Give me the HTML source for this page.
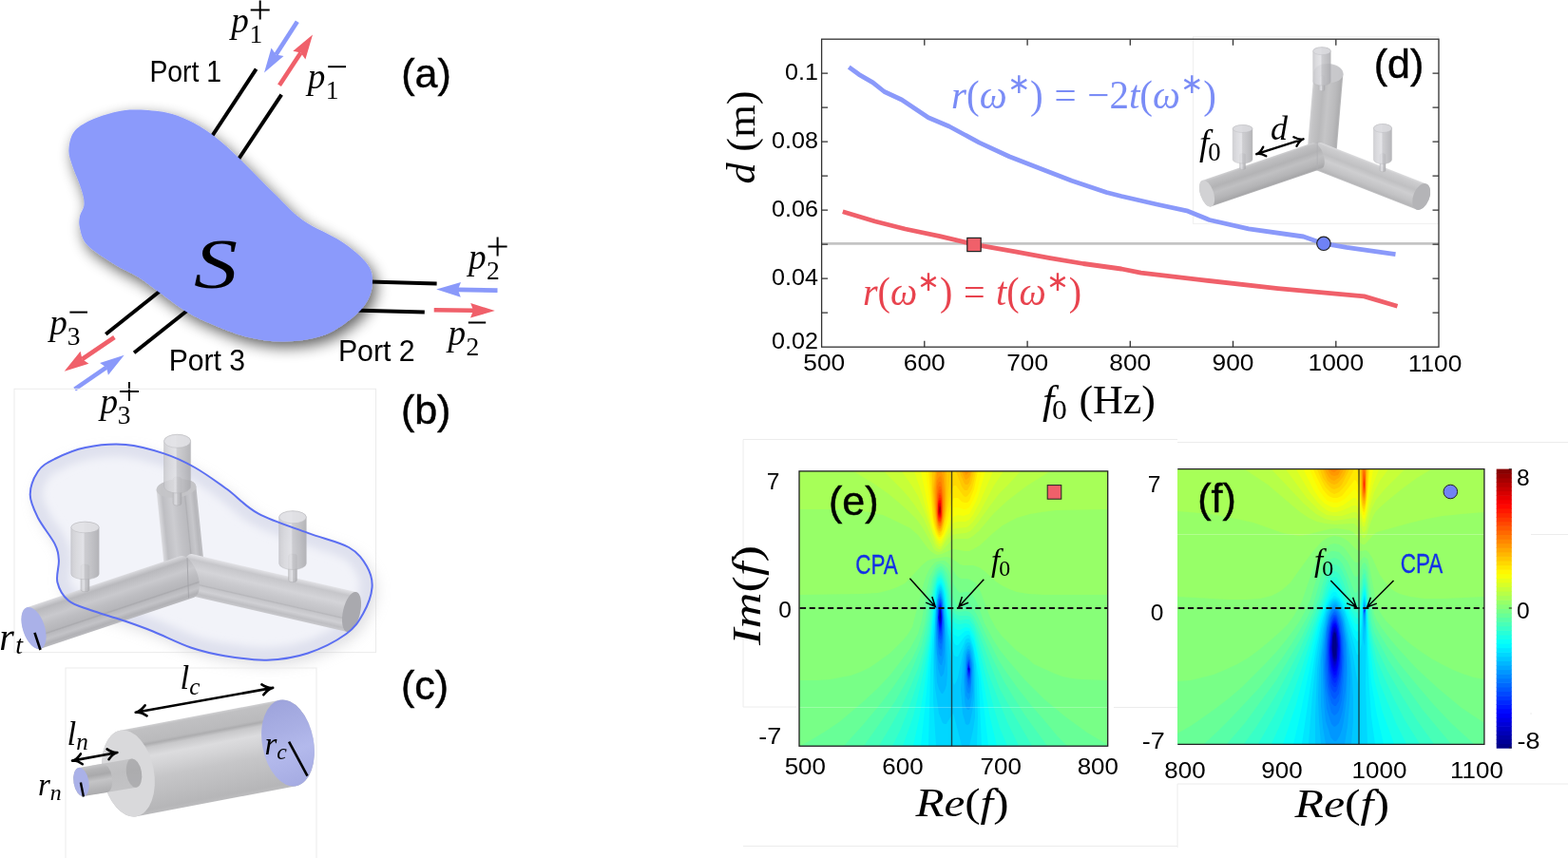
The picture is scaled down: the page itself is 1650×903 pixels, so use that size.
<!DOCTYPE html>
<html><head><meta charset="utf-8"><title>figure</title>
<style>html,body{margin:0;padding:0;background:#fff;}svg{display:block;}</style>
</head><body>
<svg width="1650" height="903" viewBox="0 0 1650 903">
<rect width="1650" height="903" fill="#fff"/>
<defs><filter id="sh" x="-20%" y="-20%" width="150%" height="150%"><feGaussianBlur in="SourceAlpha" stdDeviation="7.5"/><feOffset dx="4" dy="6" result="o"/><feComponentTransfer><feFuncA type="linear" slope="0.62"/></feComponentTransfer><feMerge><feMergeNode/><feMergeNode in="SourceGraphic"/></feMerge></filter></defs>
<g stroke="#000" stroke-width="4" stroke-linecap="butt">
<line x1="269.6" y1="72.7" x2="218" y2="151"/>
<line x1="296.2" y1="99.7" x2="244" y2="178"/>
<line x1="459.6" y1="298.5" x2="380" y2="296.3"/>
<line x1="446.8" y1="328.6" x2="370" y2="326.4"/>
<line x1="111.3" y1="351.8" x2="175" y2="301"/>
<line x1="141.1" y1="371.3" x2="205" y2="320.5"/>
</g>
<path filter="url(#sh)" fill="#8b9afb" d="M145 115.6C153.8 115.8 166.2 116.8 175 118.6C183.8 120.4 190 122.8 198 126.6C206 130.4 214.3 135.2 223 141.6C231.7 148 239 154.6 250 165C261 175.4 277.5 192.8 289 204C300.5 215.2 307.3 223.7 319 232C330.7 240.3 348 246.7 359 254C370 261.3 379.5 269.3 385 276C390.5 282.7 391.7 287.3 392 294C392.3 300.7 390.8 309 387 316C383.2 323 377 329.8 369 336C361 342.2 350.7 349.6 339 353.5C327.3 357.4 312.3 359.3 299 359.5C285.7 359.7 272.2 357.8 259 354.5C245.8 351.2 230.5 344.4 220 340C209.5 335.6 204.7 333.3 196 328C187.3 322.7 176.3 314 168 308C159.7 302 154 297 146 292C138 287 129 283.7 120 278C111 272.3 98 264.3 92 258C86 251.7 85.3 245.1 84 240C82.7 234.9 83.3 231.3 84 227.5C84.7 223.7 87.7 220.6 88.3 217C88.9 213.4 88.4 210.2 87.5 206C86.6 201.8 84.9 197.3 83 192C81.1 186.7 77.8 179.7 76 174C74.2 168.3 72.1 163.8 72.4 158C72.7 152.2 73.9 144.2 77.7 139C81.5 133.8 88 130.2 95.4 126.6C102.8 123 113.7 119.5 122 117.7C130.3 115.9 136.2 115.4 145 115.6Z"/>
<line x1="312.8" y1="22.8" x2="290.4" y2="57.4" stroke="#8a99fa" stroke-width="4.6"/><path fill="#8a99fa" d="M278 76.4 L285.5 50.6 L290.4 57.4 L298.5 59.1 Z"/>
<line x1="294" y1="89.7" x2="316.5" y2="55.6" stroke="#f0606a" stroke-width="4.6"/><path fill="#f0606a" d="M329 36.6 L321.4 62.4 L316.5 55.6 L308.3 53.8 Z"/>
<line x1="523.5" y1="305.6" x2="481.9" y2="304.9" stroke="#8a99fa" stroke-width="4.6"/><path fill="#8a99fa" d="M459.2 304.5 L485 297.1 L481.9 304.9 L484.8 312.7 Z"/>
<line x1="456.7" y1="326.2" x2="498.1" y2="326.8" stroke="#f0606a" stroke-width="4.6"/><path fill="#f0606a" d="M520.8 327.1 L495 334.5 L498.1 326.8 L495.2 318.9 Z"/>
<line x1="120.4" y1="355" x2="86.5" y2="378" stroke="#f0606a" stroke-width="4.6"/><path fill="#f0606a" d="M67.7 390.7 L84.6 369.8 L86.5 378 L93.4 382.7 Z"/>
<line x1="78.6" y1="409.6" x2="112" y2="386.7" stroke="#8a99fa" stroke-width="4.6"/><path fill="#8a99fa" d="M130.7 373.8 L113.9 394.8 L112 386.7 L105.1 381.9 Z"/>
<text x="157.4" y="86.2" font-family="'Liberation Sans', Arial, sans-serif" font-size="30.5" fill="#000" text-anchor="start"  textLength="75.7" lengthAdjust="spacingAndGlyphs">Port 1</text>
<text x="355.9" y="379.9" font-family="'Liberation Sans', Arial, sans-serif" font-size="30.5" fill="#000" text-anchor="start"  textLength="80.8" lengthAdjust="spacingAndGlyphs">Port 2</text>
<text x="177.7" y="390.3" font-family="'Liberation Sans', Arial, sans-serif" font-size="30.5" fill="#000" text-anchor="start"  textLength="80.4" lengthAdjust="spacingAndGlyphs">Port 3</text>
<text x="422.3" y="91.9" font-family="'Liberation Sans', Arial, sans-serif" font-size="43" fill="#000" text-anchor="start" stroke="#000" stroke-width="0.45">(a)</text>
<text x="204" y="303" font-family="'Liberation Serif', 'Times New Roman', serif" font-style="italic" font-size="74" fill="#000" text-anchor="start" textLength="46" lengthAdjust="spacingAndGlyphs">S</text>
<text x="243.3" y="33.9" font-family="'Liberation Serif', 'Times New Roman', serif" font-style="italic" font-size="37.2" fill="#000" text-anchor="start" >p</text><text x="262.5" y="44.5" font-family="'Liberation Serif', 'Times New Roman', serif" font-size="27.5" fill="#000" text-anchor="start" >1</text><path stroke="#000" stroke-width="2" d="M263.7 10.5 h20 M273.7 0.5 v20"/>
<text x="323.8" y="93.3" font-family="'Liberation Serif', 'Times New Roman', serif" font-style="italic" font-size="37.2" fill="#000" text-anchor="start" >p</text><text x="342.8" y="104" font-family="'Liberation Serif', 'Times New Roman', serif" font-size="27.5" fill="#000" text-anchor="start" >1</text><path stroke="#000" stroke-width="2" d="M345.2 70.2 h18.8"/>
<text x="493" y="283" font-family="'Liberation Serif', 'Times New Roman', serif" font-style="italic" font-size="37.2" fill="#000" text-anchor="start" >p</text><text x="512" y="293.7" font-family="'Liberation Serif', 'Times New Roman', serif" font-size="27.5" fill="#000" text-anchor="start" >2</text><path stroke="#000" stroke-width="2" d="M513.6 259.6 h20 M523.6 249.6 v20"/>
<text x="471.4" y="362.8" font-family="'Liberation Serif', 'Times New Roman', serif" font-style="italic" font-size="37.2" fill="#000" text-anchor="start" >p</text><text x="490.4" y="373.7" font-family="'Liberation Serif', 'Times New Roman', serif" font-size="27.5" fill="#000" text-anchor="start" >2</text><path stroke="#000" stroke-width="2" d="M492.8 339.5 h18.4"/>
<text x="52.2" y="351.7" font-family="'Liberation Serif', 'Times New Roman', serif" font-style="italic" font-size="37.2" fill="#000" text-anchor="start" >p</text><text x="70.8" y="362.6" font-family="'Liberation Serif', 'Times New Roman', serif" font-size="27.5" fill="#000" text-anchor="start" >3</text><path stroke="#000" stroke-width="2" d="M73.4 328.6 h18.6"/>
<text x="105.5" y="434.9" font-family="'Liberation Serif', 'Times New Roman', serif" font-style="italic" font-size="37.2" fill="#000" text-anchor="start" >p</text><text x="123.8" y="445.8" font-family="'Liberation Serif', 'Times New Roman', serif" font-size="27.5" fill="#000" text-anchor="start" >3</text><path stroke="#000" stroke-width="2" d="M126 411.9 h20 M136 401.9 v20"/>
<rect x="15" y="409.3" width="380.5" height="277.3" fill="none" stroke="#ebebeb" stroke-width="1"/>
<defs><filter id="bl6" x="-20%" y="-20%" width="140%" height="140%"><feGaussianBlur stdDeviation="7"/></filter><filter id="bl3" x="-20%" y="-20%" width="140%" height="140%"><feGaussianBlur stdDeviation="4"/></filter><clipPath id="cpb"><path d="M132.4 468C146.2 469.1 160.6 473.4 172.7 477.4C184.8 481.4 194 485.8 205 492C216 498.2 227.6 506.7 238.8 514.8C250 522.9 257.8 533 272 540.7C286.2 548.4 308.1 555 323.9 560.9C339.7 566.8 356.6 570.1 367 576C377.4 581.9 381.9 588.9 386 596C390.1 603.1 392.2 610.1 391.5 618.4C390.8 626.7 386.6 637.9 382 646C377.4 654.1 373.9 660.4 364.2 667.3C354.5 674.2 337.8 682.9 323.9 687.5C310 692.1 295.1 694.2 280.7 694.7C266.3 695.2 250.8 692.6 237.6 690.4C224.4 688.2 214.2 686 201.4 681.7C188.6 677.4 173 669.3 161 664.5C149 659.7 140.5 656.8 129.5 653C118.5 649.2 104.6 645.5 95 642C85.4 638.5 77.8 636.9 72 632C66.2 627.1 62.1 619.8 60.4 612.7C58.7 605.6 62.4 596.3 61.9 589.6C61.4 582.9 61.2 579.8 57.6 572.4C54 565 44.3 553.6 40 545C35.7 536.4 31.7 528.8 31.7 520.6C31.7 512.4 35.7 502.3 40 496C44.3 489.7 49.3 487.2 57.6 483C65.9 478.8 77.5 473.5 90 471C102.5 468.5 118.6 466.9 132.4 468Z"/></clipPath></defs>
<path d="M132.4 468C146.2 469.1 160.6 473.4 172.7 477.4C184.8 481.4 194 485.8 205 492C216 498.2 227.6 506.7 238.8 514.8C250 522.9 257.8 533 272 540.7C286.2 548.4 308.1 555 323.9 560.9C339.7 566.8 356.6 570.1 367 576C377.4 581.9 381.9 588.9 386 596C390.1 603.1 392.2 610.1 391.5 618.4C390.8 626.7 386.6 637.9 382 646C377.4 654.1 373.9 660.4 364.2 667.3C354.5 674.2 337.8 682.9 323.9 687.5C310 692.1 295.1 694.2 280.7 694.7C266.3 695.2 250.8 692.6 237.6 690.4C224.4 688.2 214.2 686 201.4 681.7C188.6 677.4 173 669.3 161 664.5C149 659.7 140.5 656.8 129.5 653C118.5 649.2 104.6 645.5 95 642C85.4 638.5 77.8 636.9 72 632C66.2 627.1 62.1 619.8 60.4 612.7C58.7 605.6 62.4 596.3 61.9 589.6C61.4 582.9 61.2 579.8 57.6 572.4C54 565 44.3 553.6 40 545C35.7 536.4 31.7 528.8 31.7 520.6C31.7 512.4 35.7 502.3 40 496C44.3 489.7 49.3 487.2 57.6 483C65.9 478.8 77.5 473.5 90 471C102.5 468.5 118.6 466.9 132.4 468Z" fill="#c8c8cc" opacity="0.55" filter="url(#bl6)" transform="translate(5 6)"/>
<path d="M132.4 468C146.2 469.1 160.6 473.4 172.7 477.4C184.8 481.4 194 485.8 205 492C216 498.2 227.6 506.7 238.8 514.8C250 522.9 257.8 533 272 540.7C286.2 548.4 308.1 555 323.9 560.9C339.7 566.8 356.6 570.1 367 576C377.4 581.9 381.9 588.9 386 596C390.1 603.1 392.2 610.1 391.5 618.4C390.8 626.7 386.6 637.9 382 646C377.4 654.1 373.9 660.4 364.2 667.3C354.5 674.2 337.8 682.9 323.9 687.5C310 692.1 295.1 694.2 280.7 694.7C266.3 695.2 250.8 692.6 237.6 690.4C224.4 688.2 214.2 686 201.4 681.7C188.6 677.4 173 669.3 161 664.5C149 659.7 140.5 656.8 129.5 653C118.5 649.2 104.6 645.5 95 642C85.4 638.5 77.8 636.9 72 632C66.2 627.1 62.1 619.8 60.4 612.7C58.7 605.6 62.4 596.3 61.9 589.6C61.4 582.9 61.2 579.8 57.6 572.4C54 565 44.3 553.6 40 545C35.7 536.4 31.7 528.8 31.7 520.6C31.7 512.4 35.7 502.3 40 496C44.3 489.7 49.3 487.2 57.6 483C65.9 478.8 77.5 473.5 90 471C102.5 468.5 118.6 466.9 132.4 468Z" fill="#f2f3f9"/>
<path d="M132.4 468C146.2 469.1 160.6 473.4 172.7 477.4C184.8 481.4 194 485.8 205 492C216 498.2 227.6 506.7 238.8 514.8C250 522.9 257.8 533 272 540.7C286.2 548.4 308.1 555 323.9 560.9C339.7 566.8 356.6 570.1 367 576C377.4 581.9 381.9 588.9 386 596C390.1 603.1 392.2 610.1 391.5 618.4C390.8 626.7 386.6 637.9 382 646C377.4 654.1 373.9 660.4 364.2 667.3C354.5 674.2 337.8 682.9 323.9 687.5C310 692.1 295.1 694.2 280.7 694.7C266.3 695.2 250.8 692.6 237.6 690.4C224.4 688.2 214.2 686 201.4 681.7C188.6 677.4 173 669.3 161 664.5C149 659.7 140.5 656.8 129.5 653C118.5 649.2 104.6 645.5 95 642C85.4 638.5 77.8 636.9 72 632C66.2 627.1 62.1 619.8 60.4 612.7C58.7 605.6 62.4 596.3 61.9 589.6C61.4 582.9 61.2 579.8 57.6 572.4C54 565 44.3 553.6 40 545C35.7 536.4 31.7 528.8 31.7 520.6C31.7 512.4 35.7 502.3 40 496C44.3 489.7 49.3 487.2 57.6 483C65.9 478.8 77.5 473.5 90 471C102.5 468.5 118.6 466.9 132.4 468Z" fill="none" stroke="#dfe1ee" stroke-width="26" clip-path="url(#cpb)" filter="url(#bl3)"/>
<defs><linearGradient id="g1" gradientUnits="userSpaceOnUse" x1="164.6" y1="516.1" x2="206.4" y2="511.9"><stop offset="0" stop-color="#dcdce0"/><stop offset="0.04" stop-color="#d0d0d4"/><stop offset="0.13" stop-color="#b9b9bd"/><stop offset="0.35" stop-color="#c9c9cd"/><stop offset="0.5" stop-color="#bebec2"/><stop offset="0.67" stop-color="#b6b6ba"/><stop offset="0.7" stop-color="#a9a9ad"/><stop offset="0.73" stop-color="#b9b9bd"/><stop offset="0.83" stop-color="#c3c3c7"/><stop offset="0.93" stop-color="#b1b1b5"/><stop offset="1" stop-color="#bbbbbf"/></linearGradient></defs>
<path d="M164.6 516.1 L173.1 600.1 A9.5 21 84.2 0 0 214.9 595.9 L206.4 511.9 A9.5 21 84.2 0 0 164.6 516.1 Z" fill="url(#g1)" opacity="0.92" /><ellipse cx="185.5" cy="514" rx="9.5" ry="21" transform="rotate(84.2 185.5 514)" fill="#c4c4c8" opacity="0.92"/>
<defs><linearGradient id="g2" gradientUnits="userSpaceOnUse" x1="201.8" y1="583.1" x2="192.2" y2="624.9"><stop offset="0" stop-color="#e4e4e8"/><stop offset="0.04" stop-color="#dadade"/><stop offset="0.13" stop-color="#c6c6ca"/><stop offset="0.35" stop-color="#d4d4d8"/><stop offset="0.5" stop-color="#cacace"/><stop offset="0.67" stop-color="#c2c2c6"/><stop offset="0.7" stop-color="#b6b6ba"/><stop offset="0.73" stop-color="#c6c6ca"/><stop offset="0.83" stop-color="#d0d0d4"/><stop offset="0.93" stop-color="#bebec2"/><stop offset="1" stop-color="#c8c8cc"/></linearGradient></defs>
<path d="M192.2 624.9 L365.2 664.9 A9 21.5 13 0 0 374.8 623.1 L201.8 583.1 A9 21.5 13 0 0 192.2 624.9 Z" fill="url(#g2)" opacity="1" /><ellipse cx="370" cy="644" rx="9" ry="21.5" transform="rotate(13 370 644)" fill="#a9a9ae" opacity="1"/>
<defs><linearGradient id="g3" gradientUnits="userSpaceOnUse" x1="189.7" y1="585.2" x2="204.3" y2="628.8"><stop offset="0" stop-color="#dcdce0"/><stop offset="0.04" stop-color="#d0d0d4"/><stop offset="0.13" stop-color="#b9b9bd"/><stop offset="0.35" stop-color="#c9c9cd"/><stop offset="0.5" stop-color="#bebec2"/><stop offset="0.67" stop-color="#b6b6ba"/><stop offset="0.7" stop-color="#a9a9ad"/><stop offset="0.73" stop-color="#b9b9bd"/><stop offset="0.83" stop-color="#c3c3c7"/><stop offset="0.93" stop-color="#b1b1b5"/><stop offset="1" stop-color="#bbbbbf"/></linearGradient></defs>
<path d="M204.3 628.8 L42.8 682.8 A11.5 23 161.5 0 1 28.2 639.2 L189.7 585.2 A11.5 23 161.5 0 1 204.3 628.8 Z" fill="url(#g3)" opacity="1" /><ellipse cx="35.5" cy="661" rx="11.5" ry="23" transform="rotate(161.5 35.5 661)" fill="#aab1e8" opacity="1"/>
<path d="M197 587 L198.5 629.5" stroke="#a0a0a4" stroke-width="0.8" fill="none"/>
<defs><linearGradient id="g4" gradientUnits="userSpaceOnUse" x1="85" y1="596" x2="94" y2="596"><stop offset="0" stop-color="#cacace"/><stop offset="0.2" stop-color="#d6d6da"/><stop offset="0.44" stop-color="#e0e0e4"/><stop offset="0.5" stop-color="#c6c6ca"/><stop offset="0.75" stop-color="#b9b9bd"/><stop offset="1" stop-color="#a9a9ad"/></linearGradient></defs>
<path d="M85 596 L85 620.7 A2 4.5 90 0 0 94 620.7 L94 596 A2 4.5 90 0 0 85 596 Z" fill="url(#g4)" opacity="0.9" stroke="#a8a8ac" stroke-width="0.5" />
<defs><linearGradient id="g5" gradientUnits="userSpaceOnUse" x1="74.8" y1="555" x2="104.2" y2="555"><stop offset="0" stop-color="#cacace"/><stop offset="0.2" stop-color="#d6d6da"/><stop offset="0.44" stop-color="#e0e0e4"/><stop offset="0.5" stop-color="#c6c6ca"/><stop offset="0.75" stop-color="#b9b9bd"/><stop offset="1" stop-color="#a9a9ad"/></linearGradient></defs>
<path d="M74.8 555 L74.8 604 A5.8 14.7 90 0 0 104.2 604 L104.2 555 A5.8 14.7 90 0 0 74.8 555 Z" fill="url(#g5)" opacity="0.85" stroke="#b0b0b4" stroke-width="0.5" /><ellipse cx="89.5" cy="555" rx="5.8" ry="14.7" transform="rotate(90 89.5 555)" fill="#e4e4e8" opacity="0.85" stroke="#b4b4b8" stroke-width="0.5"/>
<defs><linearGradient id="g6" gradientUnits="userSpaceOnUse" x1="182.2" y1="504" x2="191" y2="504"><stop offset="0" stop-color="#cacace"/><stop offset="0.2" stop-color="#d6d6da"/><stop offset="0.44" stop-color="#e0e0e4"/><stop offset="0.5" stop-color="#c6c6ca"/><stop offset="0.75" stop-color="#b9b9bd"/><stop offset="1" stop-color="#a9a9ad"/></linearGradient></defs>
<path d="M182.2 504 L182.2 530 A2 4.4 90 0 0 191 530 L191 504 A2 4.4 90 0 0 182.2 504 Z" fill="url(#g6)" opacity="0.9" stroke="#a8a8ac" stroke-width="0.5" />
<defs><linearGradient id="g7" gradientUnits="userSpaceOnUse" x1="172.6" y1="464.3" x2="200.6" y2="464.3"><stop offset="0" stop-color="#cacace"/><stop offset="0.2" stop-color="#d6d6da"/><stop offset="0.44" stop-color="#e0e0e4"/><stop offset="0.5" stop-color="#c6c6ca"/><stop offset="0.75" stop-color="#b9b9bd"/><stop offset="1" stop-color="#a9a9ad"/></linearGradient></defs>
<path d="M172.6 464.3 L172.6 512 A7 14 90 0 0 200.6 512 L200.6 464.3 A7 14 90 0 0 172.6 464.3 Z" fill="url(#g7)" opacity="0.85" stroke="#b0b0b4" stroke-width="0.5" /><ellipse cx="186.6" cy="464.3" rx="7" ry="14" transform="rotate(90 186.6 464.3)" fill="#e4e4e8" opacity="0.85" stroke="#b4b4b8" stroke-width="0.5"/>
<defs><linearGradient id="g8" gradientUnits="userSpaceOnUse" x1="303.6" y1="585" x2="312.4" y2="585"><stop offset="0" stop-color="#cacace"/><stop offset="0.2" stop-color="#d6d6da"/><stop offset="0.44" stop-color="#e0e0e4"/><stop offset="0.5" stop-color="#c6c6ca"/><stop offset="0.75" stop-color="#b9b9bd"/><stop offset="1" stop-color="#a9a9ad"/></linearGradient></defs>
<path d="M303.6 585 L303.6 610.7 A2 4.4 90 0 0 312.4 610.7 L312.4 585 A2 4.4 90 0 0 303.6 585 Z" fill="url(#g8)" opacity="0.9" stroke="#a8a8ac" stroke-width="0.5" />
<defs><linearGradient id="g9" gradientUnits="userSpaceOnUse" x1="293.7" y1="544.3" x2="322.3" y2="544.3"><stop offset="0" stop-color="#cacace"/><stop offset="0.2" stop-color="#d6d6da"/><stop offset="0.44" stop-color="#e0e0e4"/><stop offset="0.5" stop-color="#c6c6ca"/><stop offset="0.75" stop-color="#b9b9bd"/><stop offset="1" stop-color="#a9a9ad"/></linearGradient></defs>
<path d="M293.7 544.3 L293.7 593 A6.5 14.3 90 0 0 322.3 593 L322.3 544.3 A6.5 14.3 90 0 0 293.7 544.3 Z" fill="url(#g9)" opacity="0.85" stroke="#b0b0b4" stroke-width="0.5" /><ellipse cx="308" cy="544.3" rx="6.5" ry="14.3" transform="rotate(90 308 544.3)" fill="#e4e4e8" opacity="0.85" stroke="#b4b4b8" stroke-width="0.5"/>
<path d="M132.4 468C146.2 469.1 160.6 473.4 172.7 477.4C184.8 481.4 194 485.8 205 492C216 498.2 227.6 506.7 238.8 514.8C250 522.9 257.8 533 272 540.7C286.2 548.4 308.1 555 323.9 560.9C339.7 566.8 356.6 570.1 367 576C377.4 581.9 381.9 588.9 386 596C390.1 603.1 392.2 610.1 391.5 618.4C390.8 626.7 386.6 637.9 382 646C377.4 654.1 373.9 660.4 364.2 667.3C354.5 674.2 337.8 682.9 323.9 687.5C310 692.1 295.1 694.2 280.7 694.7C266.3 695.2 250.8 692.6 237.6 690.4C224.4 688.2 214.2 686 201.4 681.7C188.6 677.4 173 669.3 161 664.5C149 659.7 140.5 656.8 129.5 653C118.5 649.2 104.6 645.5 95 642C85.4 638.5 77.8 636.9 72 632C66.2 627.1 62.1 619.8 60.4 612.7C58.7 605.6 62.4 596.3 61.9 589.6C61.4 582.9 61.2 579.8 57.6 572.4C54 565 44.3 553.6 40 545C35.7 536.4 31.7 528.8 31.7 520.6C31.7 512.4 35.7 502.3 40 496C44.3 489.7 49.3 487.2 57.6 483C65.9 478.8 77.5 473.5 90 471C102.5 468.5 118.6 466.9 132.4 468Z" fill="none" stroke="#5b6ef2" stroke-width="2"/>
<path d="M36.5 665.8 L42.5 684" stroke="#000" stroke-width="2.6"/>
<text x="-0.8" y="683.5" font-family="'Liberation Serif', 'Times New Roman', serif" font-style="italic" font-size="40" fill="#000" text-anchor="start" >r</text><text x="16.3" y="688.3" font-family="'Liberation Serif', 'Times New Roman', serif" font-style="italic" font-size="28" fill="#000" text-anchor="start" >t</text>
<text x="421.9" y="445.6" font-family="'Liberation Sans', Arial, sans-serif" font-size="43" fill="#000" text-anchor="start" stroke="#000" stroke-width="0.45">(b)</text>
<rect x="69" y="703" width="264" height="210" fill="none" stroke="#ebebeb" stroke-width="1"/>
<defs><linearGradient id="g10" gradientUnits="userSpaceOnUse" x1="296.2" y1="736.9" x2="311.1" y2="827.5"><stop offset="0" stop-color="#9ea4dc"/><stop offset="0.35" stop-color="#a9afe4"/><stop offset="0.6" stop-color="#b3b9ec"/><stop offset="1" stop-color="#a5abe2"/></linearGradient></defs>
<defs><linearGradient id="g11" gradientUnits="userSpaceOnUse" x1="126.4" y1="768.8" x2="143.6" y2="859.2"><stop offset="0" stop-color="#cfcfd1"/><stop offset="0.03" stop-color="#c0c0c2"/><stop offset="0.18" stop-color="#bababc"/><stop offset="0.21" stop-color="#adadaf"/><stop offset="0.25" stop-color="#c8c8ca"/><stop offset="0.35" stop-color="#dcdcde"/><stop offset="0.45" stop-color="#d4d4d6"/><stop offset="0.6" stop-color="#c6c6c8"/><stop offset="0.8" stop-color="#bdbdbf"/><stop offset="0.95" stop-color="#b6b6b8"/><stop offset="1" stop-color="#bcbcbe"/></linearGradient></defs>
<path d="M143.6 859.2 L311.6 827.2 A27 46 -10.8 0 0 294.4 736.8 L126.4 768.8 A27 46 -10.8 0 0 143.6 859.2 Z" fill="url(#g11)" opacity="1" /><ellipse cx="303" cy="782" rx="27" ry="46" transform="rotate(-10.8 303 782)" fill="url(#g10)" opacity="1"/>
<ellipse cx="135" cy="814" rx="27" ry="46" transform="rotate(-10.8 135 814)" fill="#d9d9db"/>
<defs><linearGradient id="g12" gradientUnits="userSpaceOnUse" x1="138.5" y1="798.5" x2="143.5" y2="828.7"><stop offset="0" stop-color="#9c9c9e"/><stop offset="0.4" stop-color="#8e8e90"/><stop offset="1" stop-color="#9a9a9c"/></linearGradient></defs>
<path d="M143.5 828.7 L102.5 835.6 A8 15.3 170.4 0 1 97.5 805.4 L138.5 798.5 A8 15.3 170.4 0 1 143.5 828.7 Z" fill="url(#g12)" opacity="0.35" /><ellipse cx="141" cy="813.6" rx="8" ry="15.3" transform="rotate(170.4 141 813.6)" fill="#8a8a8c" opacity="0.35"/>
<defs><linearGradient id="g13" gradientUnits="userSpaceOnUse" x1="107.4" y1="803.7" x2="112.6" y2="833.9"><stop offset="0" stop-color="#c6c6c8"/><stop offset="0.15" stop-color="#b4b4b6"/><stop offset="0.35" stop-color="#a9a9ab"/><stop offset="0.55" stop-color="#c4c4c6"/><stop offset="0.8" stop-color="#b6b6b8"/><stop offset="1" stop-color="#acacae"/></linearGradient></defs>
<path d="M112.6 833.9 L88.1 838.1 A8 15.3 170.3 0 1 82.9 807.9 L107.4 803.7 A8 15.3 170.3 0 1 112.6 833.9 Z" fill="url(#g13)" opacity="1" /><ellipse cx="85.5" cy="823" rx="8" ry="15.3" transform="rotate(170.3 85.5 823)" fill="#aab1e8" opacity="1"/>
<path d="M84.9 823.6 L87.9 838.5" stroke="#000" stroke-width="2.4"/>
<path d="M304.1 780.7 L323.5 816.6" stroke="#000" stroke-width="2.6"/>
<path fill="none" stroke="#000" stroke-width="2.6" stroke-linecap="round" stroke-linejoin="round" d="M142.7 749.8 L287.2 723.9 M277.3 731.3 Q282.3 724.8 287.2 723.9 Q282.3 724.8 275.4 720.4M154.5 753.3 Q147.6 748.9 142.7 749.8 Q147.6 748.9 152.6 742.4"/>
<path fill="none" stroke="#000" stroke-width="2.6" stroke-linecap="round" stroke-linejoin="round" d="M76 800.6 L123.4 792 M114.5 799.2 Q119 792.8 123.4 792 Q119 792.8 112.6 788.4M86.8 804.2 Q80.4 799.8 76 800.6 Q80.4 799.8 84.9 793.4"/>
<text x="189.5" y="725" font-size="35" fill="#000" font-family="'Liberation Serif', 'Times New Roman', serif" text-anchor="start" ><tspan font-style="italic">l</tspan><tspan font-style="italic" dy="5.6" font-size="25.2">c</tspan></text>
<text x="70.5" y="783.5" font-size="35" fill="#000" font-family="'Liberation Serif', 'Times New Roman', serif" text-anchor="start" ><tspan font-style="italic">l</tspan><tspan font-style="italic" dy="5.6" font-size="25.2">n</tspan></text>
<text x="278.5" y="793.5" font-size="33" fill="#000" font-family="'Liberation Serif', 'Times New Roman', serif" text-anchor="start" ><tspan font-style="italic">r</tspan><tspan font-style="italic" dy="5.3" font-size="23.8">c</tspan></text>
<text x="40" y="837" font-size="33" fill="#000" font-family="'Liberation Serif', 'Times New Roman', serif" text-anchor="start" ><tspan font-style="italic">r</tspan><tspan font-style="italic" dy="5.3" font-size="23.8">n</tspan></text>
<text x="421.9" y="736.3" font-family="'Liberation Sans', Arial, sans-serif" font-size="43" fill="#000" text-anchor="start" stroke="#000" stroke-width="0.45">(c)</text>
<rect x="1255.5" y="38.4" width="258" height="197" fill="#fff" stroke="#f0f0f0" stroke-width="1"/>
<defs><linearGradient id="g14" gradientUnits="userSpaceOnUse" x1="1382.6" y1="75.7" x2="1413.4" y2="78.3"><stop offset="0" stop-color="#d0d0d2"/><stop offset="0.08" stop-color="#c0c0c2"/><stop offset="0.35" stop-color="#b3b3b5"/><stop offset="0.55" stop-color="#c0c0c2"/><stop offset="0.8" stop-color="#b4b4b6"/><stop offset="0.95" stop-color="#a7a7a9"/><stop offset="1" stop-color="#b6b6b8"/></linearGradient></defs>
<path d="M1382.6 75.7 L1375.6 158.7 A10 15.5 94.8 0 0 1406.4 161.3 L1413.4 78.3 A10 15.5 94.8 0 0 1382.6 75.7 Z" fill="url(#g14)" opacity="0.92" /><ellipse cx="1398" cy="77" rx="10" ry="15.5" transform="rotate(94.8 1398 77)" fill="#c9c9cc" opacity="0.92"/>
<defs><linearGradient id="g15" gradientUnits="userSpaceOnUse" x1="1391.3" y1="150.5" x2="1380.7" y2="177.5"><stop offset="0" stop-color="#dcdcde"/><stop offset="0.08" stop-color="#cdcdcf"/><stop offset="0.35" stop-color="#c0c0c2"/><stop offset="0.55" stop-color="#ceced0"/><stop offset="0.8" stop-color="#c2c2c4"/><stop offset="0.95" stop-color="#b6b6b8"/><stop offset="1" stop-color="#c4c4c6"/></linearGradient></defs>
<path d="M1380.7 177.5 L1490.4 220.5 A8.5 14.5 21.4 0 0 1501 193.5 L1391.3 150.5 A8.5 14.5 21.4 0 0 1380.7 177.5 Z" fill="url(#g15)" opacity="1" /><ellipse cx="1495.7" cy="207" rx="8.5" ry="14.5" transform="rotate(21.4 1495.7 207)" fill="#b4b4b7" opacity="1"/>
<defs><linearGradient id="g16" gradientUnits="userSpaceOnUse" x1="1381.3" y1="150.3" x2="1390.7" y2="177.7"><stop offset="0" stop-color="#d0d0d2"/><stop offset="0.08" stop-color="#c0c0c2"/><stop offset="0.35" stop-color="#b3b3b5"/><stop offset="0.55" stop-color="#c0c0c2"/><stop offset="0.8" stop-color="#b4b4b6"/><stop offset="0.95" stop-color="#a7a7a9"/><stop offset="1" stop-color="#b6b6b8"/></linearGradient></defs>
<path d="M1390.7 177.7 L1274.7 217.3 A7 14.5 161.2 0 1 1265.3 189.9 L1381.3 150.3 A7 14.5 161.2 0 1 1390.7 177.7 Z" fill="url(#g16)" opacity="1" /><ellipse cx="1270" cy="203.6" rx="7" ry="14.5" transform="rotate(161.2 1270 203.6)" fill="#d2d2d4" opacity="1"/>
<path d="M1386.2 149.7 L1386.2 178" stroke="#b0b0b2" stroke-width="0.8"/>
<defs><linearGradient id="g17" gradientUnits="userSpaceOnUse" x1="1304.6" y1="163" x2="1310.6" y2="163"><stop offset="0" stop-color="#cacace"/><stop offset="0.2" stop-color="#d6d6da"/><stop offset="0.44" stop-color="#e0e0e4"/><stop offset="0.5" stop-color="#c6c6ca"/><stop offset="0.75" stop-color="#b9b9bd"/><stop offset="1" stop-color="#a9a9ad"/></linearGradient></defs>
<path d="M1304.6 163 L1304.6 177 A1.5 3 90 0 0 1310.6 177 L1310.6 163 A1.5 3 90 0 0 1304.6 163 Z" fill="url(#g17)" opacity="0.9" stroke="#a8a8ac" stroke-width="0.4" />
<defs><linearGradient id="g18" gradientUnits="userSpaceOnUse" x1="1297.2" y1="135.5" x2="1318" y2="135.5"><stop offset="0" stop-color="#cacace"/><stop offset="0.2" stop-color="#d6d6da"/><stop offset="0.44" stop-color="#e0e0e4"/><stop offset="0.5" stop-color="#c6c6ca"/><stop offset="0.75" stop-color="#b9b9bd"/><stop offset="1" stop-color="#a9a9ad"/></linearGradient></defs>
<path d="M1297.2 135.5 L1297.2 168 A4 10.4 90 0 0 1318 168 L1318 135.5 A4 10.4 90 0 0 1297.2 135.5 Z" fill="url(#g18)" opacity="0.85" stroke="#b0b0b4" stroke-width="0.4" /><ellipse cx="1307.6" cy="135.5" rx="4" ry="10.4" transform="rotate(90 1307.6 135.5)" fill="#dcdce0" opacity="0.85" stroke="#b4b4b8" stroke-width="0.4"/>
<defs><linearGradient id="g19" gradientUnits="userSpaceOnUse" x1="1388" y1="81" x2="1394" y2="81"><stop offset="0" stop-color="#cacace"/><stop offset="0.2" stop-color="#d6d6da"/><stop offset="0.44" stop-color="#e0e0e4"/><stop offset="0.5" stop-color="#c6c6ca"/><stop offset="0.75" stop-color="#b9b9bd"/><stop offset="1" stop-color="#a9a9ad"/></linearGradient></defs>
<path d="M1388 81 L1388 94.2 A1.5 3 90 0 0 1394 94.2 L1394 81 A1.5 3 90 0 0 1388 81 Z" fill="url(#g19)" opacity="0.9" stroke="#a8a8ac" stroke-width="0.4" />
<defs><linearGradient id="g20" gradientUnits="userSpaceOnUse" x1="1381.7" y1="53.7" x2="1400.3" y2="53.7"><stop offset="0" stop-color="#cacace"/><stop offset="0.2" stop-color="#d6d6da"/><stop offset="0.44" stop-color="#e0e0e4"/><stop offset="0.5" stop-color="#c6c6ca"/><stop offset="0.75" stop-color="#b9b9bd"/><stop offset="1" stop-color="#a9a9ad"/></linearGradient></defs>
<path d="M1381.7 53.7 L1381.7 86 A4 9.3 90 0 0 1400.3 86 L1400.3 53.7 A4 9.3 90 0 0 1381.7 53.7 Z" fill="url(#g20)" opacity="0.85" stroke="#b0b0b4" stroke-width="0.4" /><ellipse cx="1391" cy="53.7" rx="4" ry="9.3" transform="rotate(90 1391 53.7)" fill="#dcdce0" opacity="0.85" stroke="#b4b4b8" stroke-width="0.4"/>
<defs><linearGradient id="g21" gradientUnits="userSpaceOnUse" x1="1452" y1="163" x2="1458" y2="163"><stop offset="0" stop-color="#cacace"/><stop offset="0.2" stop-color="#d6d6da"/><stop offset="0.44" stop-color="#e0e0e4"/><stop offset="0.5" stop-color="#c6c6ca"/><stop offset="0.75" stop-color="#b9b9bd"/><stop offset="1" stop-color="#a9a9ad"/></linearGradient></defs>
<path d="M1452 163 L1452 179.3 A1.5 3 90 0 0 1458 179.3 L1458 163 A1.5 3 90 0 0 1452 163 Z" fill="url(#g21)" opacity="0.9" stroke="#a8a8ac" stroke-width="0.4" />
<defs><linearGradient id="g22" gradientUnits="userSpaceOnUse" x1="1445.4" y1="135" x2="1464.6" y2="135"><stop offset="0" stop-color="#cacace"/><stop offset="0.2" stop-color="#d6d6da"/><stop offset="0.44" stop-color="#e0e0e4"/><stop offset="0.5" stop-color="#c6c6ca"/><stop offset="0.75" stop-color="#b9b9bd"/><stop offset="1" stop-color="#a9a9ad"/></linearGradient></defs>
<path d="M1445.4 135 L1445.4 168 A4.5 9.6 90 0 0 1464.6 168 L1464.6 135 A4.5 9.6 90 0 0 1445.4 135 Z" fill="url(#g22)" opacity="0.85" stroke="#b0b0b4" stroke-width="0.4" /><ellipse cx="1455" cy="135" rx="4.5" ry="9.6" transform="rotate(90 1455 135)" fill="#dcdce0" opacity="0.85" stroke="#b4b4b8" stroke-width="0.4"/>
<path fill="none" stroke="#000" stroke-width="2.4" stroke-linecap="round" stroke-linejoin="round" d="M1322.2 162.2 L1371.5 146.3 M1364.5 153.8 Q1367.6 147.5 1371.5 146.3 Q1367.6 147.5 1361.4 144.3M1332.3 164.2 Q1326.1 161 1322.2 162.2 Q1326.1 161 1329.2 154.7"/>
<text x="1337" y="147.4" font-family="'Liberation Serif', 'Times New Roman', serif" font-style="italic" font-size="36" fill="#000" text-anchor="start" >d</text>
<text x="1262" y="163" font-size="37" fill="#000" font-family="'Liberation Serif', 'Times New Roman', serif" text-anchor="start" ><tspan font-style="italic">f</tspan><tspan dy="5.9" dx="-1" font-size="26.6">0</tspan></text>
<line x1="864.6" y1="256.4" x2="1514" y2="256.4" stroke="#c4c4c4" stroke-width="2.6"/>
<path fill="none" stroke="#8a99fa" stroke-width="4.8" stroke-linejoin="round" d="M893.3 70.6 L903.8 78.3 L918.5 86.8 L930.6 96.5 L948.9 105 L976.9 123.8 L998.8 133 L1030.5 150.1 L1062.1 164.7 L1096.2 178.1 L1127.9 190.3 L1164.4 202.5 L1180 206.5 L1217 215 L1250 222.2 L1272.7 231.5 L1314 240.8 L1371.6 249 L1392.2 256.2 L1417 260.4 L1468.5 267.6"/>
<path fill="none" stroke="#f0606a" stroke-width="4.8" stroke-linejoin="round" d="M886.8 222.7 L920.9 233 L952.5 241 L989 248.7 L1025.6 257.3 L1067 264.6 L1103.5 271.4 L1140 277.5 L1180 283 L1200.6 287.2 L1262.4 294.4 L1344.8 303.6 L1435.5 311.9 L1470.5 322.2"/>
<rect x="1017.8" y="250.4" width="14.4" height="14.2" fill="#f0606a" stroke="#222" stroke-width="1.2"/>
<circle cx="1392.9" cy="256.3" r="7.2" fill="#6f82f6" stroke="#222" stroke-width="1.2"/>
<g stroke="#333" stroke-width="1.3" fill="none"><rect x="864.6" y="41.2" width="649.4" height="324"/><path d="M972.8 365.2 v-6.5 M972.8 41.2 v6.5 M1081.1 365.2 v-6.5 M1081.1 41.2 v6.5 M1189.3 365.2 v-6.5 M1189.3 41.2 v6.5 M1297.5 365.2 v-6.5 M1297.5 41.2 v6.5 M1405.8 365.2 v-6.5 M1405.8 41.2 v6.5 M864.6 329.2 h6.5 M1514 329.2 h-6.5 M864.6 293.2 h6.5 M1514 293.2 h-6.5 M864.6 257.2 h6.5 M1514 257.2 h-6.5 M864.6 221.2 h6.5 M1514 221.2 h-6.5 M864.6 185.2 h6.5 M1514 185.2 h-6.5 M864.6 149.2 h6.5 M1514 149.2 h-6.5 M864.6 113.2 h6.5 M1514 113.2 h-6.5 M864.6 77.2 h6.5 M1514 77.2 h-6.5 "/></g>
<text x="861" y="83.7" font-family="'Liberation Sans', Arial, sans-serif" font-size="24.5" fill="#000" text-anchor="end"  textLength="34.9" lengthAdjust="spacingAndGlyphs">0.1</text>
<text x="861" y="155.7" font-family="'Liberation Sans', Arial, sans-serif" font-size="24.5" fill="#000" text-anchor="end"  textLength="48.9" lengthAdjust="spacingAndGlyphs">0.08</text>
<text x="861" y="227.7" font-family="'Liberation Sans', Arial, sans-serif" font-size="24.5" fill="#000" text-anchor="end"  textLength="48.9" lengthAdjust="spacingAndGlyphs">0.06</text>
<text x="861" y="299.7" font-family="'Liberation Sans', Arial, sans-serif" font-size="24.5" fill="#000" text-anchor="end"  textLength="48.9" lengthAdjust="spacingAndGlyphs">0.04</text>
<text x="861" y="366.7" font-family="'Liberation Sans', Arial, sans-serif" font-size="24.5" fill="#000" text-anchor="end"  textLength="48.9" lengthAdjust="spacingAndGlyphs">0.02</text>
<text x="867.3" y="389.7" font-family="'Liberation Sans', Arial, sans-serif" font-size="24.8" fill="#000" text-anchor="middle"  textLength="43.9" lengthAdjust="spacingAndGlyphs">500</text>
<text x="972.8" y="389.7" font-family="'Liberation Sans', Arial, sans-serif" font-size="24.8" fill="#000" text-anchor="middle"  textLength="43.9" lengthAdjust="spacingAndGlyphs">600</text>
<text x="1081.1" y="389.7" font-family="'Liberation Sans', Arial, sans-serif" font-size="24.8" fill="#000" text-anchor="middle"  textLength="43.9" lengthAdjust="spacingAndGlyphs">700</text>
<text x="1189.3" y="389.7" font-family="'Liberation Sans', Arial, sans-serif" font-size="24.8" fill="#000" text-anchor="middle"  textLength="43.9" lengthAdjust="spacingAndGlyphs">800</text>
<text x="1297.5" y="389.7" font-family="'Liberation Sans', Arial, sans-serif" font-size="24.8" fill="#000" text-anchor="middle"  textLength="43.9" lengthAdjust="spacingAndGlyphs">900</text>
<text x="1405.8" y="389.7" font-family="'Liberation Sans', Arial, sans-serif" font-size="24.8" fill="#000" text-anchor="middle"  textLength="58.5" lengthAdjust="spacingAndGlyphs">1000</text>
<text x="1510" y="391.4" font-family="'Liberation Sans', Arial, sans-serif" font-size="24.8" fill="#000" text-anchor="middle"  textLength="56.5" lengthAdjust="spacingAndGlyphs">1100</text>
<text x="1445.8" y="82.1" font-family="'Liberation Sans', Arial, sans-serif" font-size="43" fill="#000" text-anchor="start" stroke="#000" stroke-width="0.45">(d)</text>
<text x="1097" y="434.5" font-size="42" fill="#000" font-family="'Liberation Serif', 'Times New Roman', serif" text-anchor="start" textLength="119" lengthAdjust="spacingAndGlyphs" ><tspan font-style="italic">f</tspan><tspan dy="6.7" dx="-2" font-size="30.2">0</tspan><tspan dy="-6.7" dx="12">(Hz)</tspan></text>
<g transform="translate(793.5 193.5) rotate(-90)"><text x="0" y="0" font-size="42" fill="#000" font-family="'Liberation Serif', 'Times New Roman', serif" text-anchor="start" textLength="98" lengthAdjust="spacingAndGlyphs" ><tspan font-style="italic">d</tspan><tspan dx="11">(m)</tspan></text></g>
<text x="1001" y="113.5" font-size="42" fill="#7a8cf6" font-family="'Liberation Serif', 'Times New Roman', serif" text-anchor="start" textLength="279" lengthAdjust="spacingAndGlyphs" ><tspan font-style="italic">r</tspan><tspan>(</tspan><tspan font-style="italic">ω</tspan><tspan dy="-15.1" font-size="30.2">∗</tspan><tspan dy="15.1">)</tspan><tspan dx="12">=</tspan><tspan dx="12">−2</tspan><tspan font-style="italic">t</tspan><tspan>(</tspan><tspan font-style="italic">ω</tspan><tspan dy="-15.1" font-size="30.2">∗</tspan><tspan dy="15.1">)</tspan></text>
<text x="908" y="321" font-size="42" fill="#e8434e" font-family="'Liberation Serif', 'Times New Roman', serif" text-anchor="start" textLength="230" lengthAdjust="spacingAndGlyphs" ><tspan font-style="italic">r</tspan><tspan>(</tspan><tspan font-style="italic">ω</tspan><tspan dy="-15.1" font-size="30.2">∗</tspan><tspan dy="15.1">)</tspan><tspan dx="12">=</tspan><tspan font-style="italic" dx="12">t</tspan><tspan>(</tspan><tspan font-style="italic">ω</tspan><tspan dy="-15.1" font-size="30.2">∗</tspan><tspan dy="15.1">)</tspan></text>
<g stroke="#ececec" stroke-width="1" fill="none">
<path d="M782 462.5 H1239 M1239 465.5 H1650 M782 462.5 V744 H838 M1172 744.5 H1239 M1239 825 V892 M1239 825 H1650 M782 890.5 H1239 M1611 562.5 H1650 M1611 750 V752"/>
</g>
<g><rect x="841.0" y="495.9" width="324.70000000000005" height="289.30000000000007" fill="#000087"/>
<path fill="#000097" d="M842 496L1166 496L1166 785L841 785L841 496Z"/>
<path fill="#0000a7" d="M842 496L1166 496L1166 785L841 785L841 496ZM989 641L989 649L990 653L990 647ZM1019 704L1020 705L1020 704L1020 704Z"/>
<path fill="#0000b7" d="M842 496L1166 496L1166 785L841 785L841 496ZM989 641L989 649L990 654L990 652L990 643L990 641ZM1019 704L1020 706L1020 704L1020 703Z"/>
<path fill="#0000c7" d="M842 496L1166 496L1166 785L841 785L841 496ZM989 641L989 650L990 655L990 652L990 643L990 640ZM1019 704L1020 706L1020 704L1020 703Z"/>
<path fill="#0000d7" d="M842 496L1166 496L1166 785L841 785L841 496ZM989 640L989 643L988 649L988 652L990 656L990 652L990 647L990 643ZM1019 703L1019 704L1020 707L1020 704Z"/>
<path fill="#0000e7" d="M842 496L1166 496L1166 785L841 785L841 496ZM989 640L988 643L988 649L988 653L990 657L990 652L990 646L990 641L990 639ZM1019 703L1019 704L1020 707L1020 704L1020 702Z"/>
<path fill="#0000f7" d="M842 496L1166 496L1166 785L841 785L841 496ZM989 638L988 643L988 649L988 653L990 658L991 653L991 649L990 641ZM1019 703L1019 704L1020 708L1020 704L1020 702Z"/>
<path fill="#0008ff" d="M842 496L1166 496L1166 785L841 785L841 496ZM989 638L988 642L988 649L988 655L990 659L991 653L991 647L990 640L990 637ZM1019 701L1019 704L1020 708L1020 704Z"/>
<path fill="#0018ff" d="M842 496L1166 496L1166 785L841 785L841 496ZM989 637L988 641L987 649L988 657L990 661L991 656L991 649L991 641ZM1019 701L1018 704L1020 709L1021 704L1020 700Z"/>
<path fill="#0028ff" d="M842 496L1166 496L1166 785L841 785L841 496ZM989 637L988 641L987 650L988 659L990 663L991 656L991 647L990 638L990 636ZM1019 700L1018 704L1020 710L1021 704Z"/>
<path fill="#0038ff" d="M842 496L1166 496L1166 785L841 785L841 496ZM989 635L988 640L987 650L988 661L990 665L991 659L991 649L991 638L990 635ZM1019 700L1018 704L1020 711L1021 704L1020 699Z"/>
<path fill="#0048ff" d="M842 496L1166 496L1166 785L841 785L841 496ZM989 634L988 638L987 650L988 664L990 667L991 663L992 650L991 638ZM1019 698L1018 704L1018 709L1020 713L1021 709L1021 704L1020 700L1020 697Z"/>
<path fill="#0058ff" d="M842 496L1166 496L1166 785L841 785L841 496ZM989 634L987 641L987 653L988 667L990 670L991 667L991 664L992 649L991 635L990 632ZM1019 697L1018 700L1018 706L1018 710L1020 715L1021 710L1021 704L1020 698L1020 696Z"/>
<path fill="#0068ff" d="M842 496L1166 496L1166 785L841 785L841 496ZM989 632L988 634L987 640L987 655L988 668L988 671L990 674L991 671L992 667L992 650L991 636L990 631ZM1019 695L1018 700L1018 707L1018 713L1020 717L1021 712L1021 704L1020 697L1020 695Z"/>
<path fill="#0078ff" d="M842 496L1166 496L1166 785L841 785L841 496ZM989 631L988 632L987 638L986 656L987 671L988 675L990 678L991 676L992 671L993 655L991 635L990 630ZM1019 694L1017 700L1017 709L1018 717L1020 721L1021 715L1022 704L1021 695L1020 693Z"/>
<path fill="#0087ff" d="M842 496L1166 496L1166 785L841 785L841 496ZM989 629L988 631L987 637L986 658L987 676L988 681L990 684L991 682L992 676L993 656L992 635L990 629L990 628ZM1019 691L1018 693L1017 697L1017 709L1018 721L1020 725L1021 721L1022 718L1022 706L1021 695L1020 692L1020 691Z"/>
<path fill="#0097ff" d="M842 496L1166 496L1166 785L841 785L841 496ZM989 628L987 631L986 638L986 661L987 680L988 688L990 691L991 690L992 684L993 673L994 661L993 649L992 634L990 628L990 627ZM1018 689L1017 692L1017 697L1016 712L1017 725L1018 729L1020 730L1021 727L1022 721L1023 706L1022 697L1021 691L1020 688Z"/>
<path fill="#00a7ff" d="M842 496L1166 496L1166 785L841 785L841 496ZM988 626L987 631L986 640L985 667L986 688L988 697L990 700L991 700L993 692L994 682L994 667L994 649L992 632L990 626L990 625ZM1018 686L1017 689L1016 697L1015 716L1016 732L1018 736L1019 737L1021 734L1022 726L1023 707L1023 698L1021 689L1020 685Z"/>
<path fill="#00b7ff" d="M842 496L1166 496L1166 785L841 785L841 496ZM988 625L986 632L985 643L985 662L985 680L987 703L989 710L990 712L991 712L993 709L995 698L995 686L995 670L994 655L992 631L991 626L990 624ZM1018 683L1016 689L1015 697L1014 716L1015 736L1016 744L1018 747L1020 747L1021 744L1022 738L1024 727L1024 713L1024 700L1022 689L1021 685L1020 683L1020 683Z"/>
<path fill="#00c7ff" d="M842 496L1166 496L1166 785L841 785L841 496ZM989 622L988 623L987 626L985 637L984 659L984 683L985 703L986 718L988 725L990 729L991 730L992 730L994 727L996 721L997 709L997 692L996 668L993 634L991 624L990 622ZM1018 680L1015 686L1013 698L1012 713L1011 725L1012 739L1013 751L1015 758L1016 762L1018 763L1020 762L1021 759L1023 749L1025 734L1025 718L1025 701L1023 688L1021 681L1020 679L1018 680Z"/>
<path fill="#00d7ff" d="M842 496L1166 496L1166 785L1020 785L1022 777L1024 768L1026 755L1026 740L1026 710L1025 697L1024 686L1021 677L1020 676L1018 676L1016 678L1013 688L1008 713L1006 718L1004 721L1003 718L1002 707L993 631L991 622L990 620L988 621L988 622L986 631L984 646L983 670L983 707L984 724L986 737L988 751L990 756L991 759L992 761L994 762L996 762L997 760L1002 752L1003 751L1004 754L1009 773L1012 785L841 785L841 496Z"/>
<path fill="#00e7ff" d="M842 496L1166 496L1166 785L1028 785L1029 754L1028 725L1027 700L1024 682L1021 674L1020 672L1018 672L1016 673L1015 676L1009 689L1008 691L1006 691L1004 690L1002 682L998 667L996 648L993 625L991 619L990 617L988 619L986 623L985 634L982 691L982 737L985 785L841 785L841 496Z"/>
<path fill="#00f7ff" d="M842 496L1166 496L1166 785L1033 785L1031 740L1030 715L1027 695L1024 679L1022 673L1021 670L1020 668L1018 668L1015 670L1009 678L1008 679L1006 679L1004 677L1002 670L998 659L996 643L994 631L993 622L991 617L990 615L988 616L986 620L985 628L984 637L979 706L977 785L841 785L841 496Z"/>
<path fill="#08fff7" d="M842 496L1166 496L1166 785L1040 785L1031 706L1028 688L1025 674L1022 669L1020 664L1018 664L1016 664L1010 669L1008 670L1006 669L1004 668L1003 666L1000 658L997 647L995 628L993 619L991 614L990 613L988 614L986 617L984 629L974 738L969 785L841 785L841 496Z"/>
<path fill="#18ffe7" d="M842 496L1166 496L1166 785L1049 785L1042 756L1029 688L1025 670L1022 664L1020 661L1016 660L1010 663L1008 663L1004 661L1003 659L1000 653L997 642L995 626L993 617L991 611L990 610L988 611L986 614L984 623L979 675L973 721L967 757L961 785L841 785L841 496Z"/>
<path fill="#28ffd7" d="M842 496L1166 496L1166 785L1060 785L1052 766L1045 742L1029 679L1025 665L1022 660L1020 657L1016 656L1010 657L1008 657L1004 655L1003 653L1000 648L998 641L996 625L994 614L992 610L991 609L990 608L988 608L986 611L984 620L978 675L973 702L968 724L961 754L950 785L841 785L841 496Z"/>
<path fill="#38ffc7" d="M842 496L1166 496L1166 785L1072 785L1060 760L1050 735L1040 709L1029 671L1025 659L1022 655L1020 652L1016 652L1010 653L1008 652L1004 650L1002 646L999 640L997 623L994 613L992 608L991 606L990 605L988 606L986 608L983 619L981 629L979 655L978 666L973 689L967 713L961 732L955 749L948 767L939 785L841 785L841 496Z"/>
<path fill="#48ffb7" d="M842 496L1166 496L1166 785L1086 785L1068 754L1052 725L1044 704L1029 664L1024 653L1021 649L1018 648L1010 648L1006 647L1003 644L1001 641L998 622L996 613L992 604L991 603L990 602L988 603L986 605L983 614L981 625L978 652L976 665L972 684L966 704L958 723L949 743L938 763L925 785L841 785L841 496Z"/>
<path fill="#58ffa7" d="M842 496L1166 496L1166 785L1102 785L1078 752L1068 736L1057 718L1044 692L1028 655L1024 648L1022 646L1020 644L1016 643L1009 644L1006 643L1003 640L999 620L996 608L994 604L993 601L991 600L990 599L988 600L986 602L982 610L980 623L976 652L974 662L970 679L962 699L954 717L942 738L926 761L909 785L841 785L841 496Z"/>
<path fill="#68ff97" d="M842 496L1166 496L1166 785L1123 785L1112 774L1098 757L1084 741L1070 723L1058 706L1051 695L1044 681L1038 669L1028 647L1022 638L1021 636L1018 635L1015 636L1011 639L1009 639L1008 638L1004 631L999 611L997 604L993 598L991 596L990 596L986 598L985 599L983 604L981 608L978 622L973 657L970 668L966 680L960 693L950 708L940 723L928 739L908 763L888 785L841 785L841 496Z"/>
<path fill="#78ff87" d="M842 496L1166 496L1166 784L1144 771L1122 755L1099 736L1078 715L1060 694L1052 684L1045 673L1036 656L1028 634L1024 627L1022 625L1020 623L1016 623L1010 624L1008 622L1004 616L1000 604L997 598L994 595L992 594L990 593L986 594L983 598L981 602L978 608L975 622L970 653L966 667L958 682L947 697L937 710L924 724L910 737L896 749L883 760L868 770L853 779L842 785L841 785L841 496Z"/>
<path fill="#87ff78" d="M842 496L1166 496L1166 716L1138 715L1128 714L1118 712L1110 709L1099 704L1088 699L1080 692L1070 685L1062 677L1054 669L1048 661L1042 650L1032 623L1027 614L1024 612L1021 610L1018 609L1012 609L1009 608L1006 605L998 593L994 590L991 590L986 591L984 592L981 595L978 599L975 605L972 614L962 652L960 660L955 668L950 674L944 680L937 687L926 695L916 702L906 707L895 711L884 713L874 715L860 716L841 716L841 496Z"/>
<path fill="#97ff68" d="M842 496L1166 496L1166 626L1099 626L1082 625L1070 623L1062 620L1054 616L1048 612L1036 601L1030 597L1024 595L1014 595L1010 594L1008 592L1000 587L996 586L982 588L976 590L970 595L958 608L952 614L944 618L936 621L924 624L907 625L841 626L841 496Z"/>
<path fill="#a7ff58" d="M842 496L1166 496L1166 536L1111 537L1096 539L1084 541L1070 545L1055 553L1045 561L1031 574L1024 578L1020 580L1015 580L1004 578L1002 578L991 583L986 584L982 582L977 578L966 563L958 556L952 553L944 549L929 542L914 539L900 537L880 536L841 536L841 496Z"/>
<path fill="#b7ff48" d="M900 496L1105 496L1081 511L1060 527L1046 540L1030 559L1024 564L1021 566L1018 567L1006 567L1002 568L993 578L991 580L988 581L985 580L982 577L980 572L974 561L970 554L964 546L956 538L946 529L934 519L918 508L898 496Z"/>
<path fill="#c7ff38" d="M930 496L1074 496L1062 509L1051 520L1042 532L1029 550L1024 556L1021 559L1016 561L1006 562L1002 563L997 567L992 575L990 578L988 578L985 576L983 572L972 546L962 531L956 523L949 515Z"/>
<path fill="#d7ff28" d="M949 496L1056 496L1046 511L1031 539L1024 549L1020 553L1017 555L1006 556L1003 557L998 562L991 574L990 575L988 575L985 572L984 569L972 536L966 522L960 512Z"/>
<path fill="#e7ff18" d="M962 496L1045 496L1031 529L1027 536L1024 542L1020 547L1016 549L1014 549L1008 549L1004 550L1003 551L998 557L991 571L990 572L988 572L986 569L982 562L970 519L962 496Z"/>
<path fill="#f7ff08" d="M970 496L1037 496L1029 523L1026 530L1022 537L1020 541L1016 542L1014 543L1008 542L1005 543L1003 544L1000 549L993 565L990 569L988 569L986 566L981 554L969 496Z"/>
<path fill="#fff700" d="M974 496L1033 496L1028 517L1025 524L1022 530L1020 534L1016 536L1014 536L1008 534L1006 534L1004 534L1003 536L1000 542L993 562L991 565L990 567L988 567L985 563L983 556L981 548L977 518L974 496Z"/>
<path fill="#ffe700" d="M978 496L1029 496L1025 515L1022 522L1020 527L1018 529L1015 529L1012 528L1008 524L1006 524L1004 524L1003 525L1000 533L994 557L992 562L990 565L988 565L986 562L984 557L982 548L979 518L977 496Z"/>
<path fill="#ffd700" d="M980 496L1027 496L1025 506L1023 514L1021 518L1018 522L1016 523L1014 522L1006 511L1004 511L1003 512L1002 515L1000 521L993 554L991 560L990 563L988 563L986 559L984 553L982 544L981 530L980 512L979 496Z"/>
<path fill="#ffc700" d="M982 496L1000 496L995 544L992 556L991 559L989 561L988 561L986 557L984 550L983 541L981 515L981 496ZM1008 496L1025 496L1022 509L1019 514L1018 516L1016 516L1015 516L1012 512L1006 496Z"/>
<path fill="#ffb700" d="M984 496L996 496L996 515L995 536L992 553L991 557L990 559L988 559L986 556L985 548L984 541L982 517L983 503ZM1010 496L1023 496L1021 504L1020 508L1018 510L1016 510L1015 509L1014 507L1011 500L1010 496Z"/>
<path fill="#ffa700" d="M985 496L994 496L994 503L995 521L994 539L992 551L989 558L988 557L986 553L984 538L983 515ZM1014 496L1022 496L1020 502L1018 504L1016 505L1015 503L1012 496Z"/>
<path fill="#ff9700" d="M988 496L991 496L991 497L993 505L994 517L994 530L993 541L992 550L990 556L988 556L986 550L985 539L984 530L984 518L985 507L986 498L987 496ZM1015 496L1020 496L1018 499L1016 500L1015 497L1014 496Z"/>
<path fill="#ff8700" d="M988 502L990 501L991 504L992 512L993 523L993 533L992 544L991 550L990 554L988 554L986 548L985 532L985 514L986 506Z"/>
<path fill="#ff7800" d="M988 507L990 507L991 511L992 524L992 542L991 548L990 553L988 553L987 550L986 544L985 536L986 518L986 512Z"/>
<path fill="#ff6800" d="M988 512L990 512L991 515L992 527L992 542L990 551L988 551L987 548L986 536L986 521Z"/>
<path fill="#ff5800" d="M990 515L991 521L992 533L991 544L990 550L988 550L987 547L986 533L987 520L988 516Z"/>
<path fill="#ff4800" d="M988 519L990 519L991 529L991 542L990 549L988 549L987 547L986 538L987 526Z"/>
<path fill="#ff3800" d="M990 521L991 527L991 535L991 542L990 548L988 548L987 545L987 535L988 523L988 521Z"/>
<path fill="#ff2800" d="M988 524L990 524L991 530L991 539L990 546L988 546L987 539L987 530Z"/>
<path fill="#ff1800" d="M988 526L990 526L990 532L991 539L990 545L988 545L987 539L987 532Z"/>
<path fill="#ff0800" d="M990 527L990 533L990 539L990 544L988 544L987 538L987 532L988 527Z"/>
<path fill="#f70000" d="M988 529L990 529L990 533L990 538L990 543L988 543L987 539L987 535Z"/>
<path fill="#e70000" d="M988 530L990 530L990 533L990 538L990 542L988 542L987 539Z"/>
<path fill="#d70000" d="M988 532L990 532L990 536L990 541L988 541L988 541L988 536Z"/>
<path fill="#c70000" d="M988 533L990 533L990 540L988 540Z"/>
<path fill="#b70000" d="M988 534L990 534L990 539L988 539Z"/>
<path fill="#a70000" d="M988 536L989 536L988 538Z"/></g>
<g><rect x="1239.3" y="493.6" width="322.60000000000014" height="289.79999999999995" fill="#000087"/>
<path fill="#000097" d="M1241 494L1562 494L1562 783L1239 783L1239 494ZM1404 666L1403 671L1402 683L1403 689L1404 692L1406 689L1406 678L1406 669L1405 666L1404 666Z"/>
<path fill="#0000a7" d="M1241 494L1562 494L1562 783L1239 783L1239 494ZM1403 666L1402 671L1402 686L1403 691L1404 694L1406 692L1406 689L1407 678L1406 667L1404 665Z"/>
<path fill="#0000b7" d="M1241 494L1562 494L1562 783L1239 783L1239 494ZM1404 665L1403 666L1402 671L1402 681L1402 690L1403 693L1404 696L1406 694L1407 690L1407 678L1406 666L1404 664Z"/>
<path fill="#0000c7" d="M1241 494L1562 494L1562 783L1239 783L1239 494ZM1404 663L1403 665L1402 669L1401 681L1402 692L1403 695L1404 697L1406 696L1407 692L1408 678L1406 666L1405 663L1404 662Z"/>
<path fill="#0000d7" d="M1241 494L1562 494L1562 783L1239 783L1239 494ZM1404 662L1403 663L1402 668L1401 681L1402 693L1403 697L1404 700L1406 698L1407 693L1408 680L1407 666L1406 663L1404 661Z"/>
<path fill="#0000e7" d="M1241 494L1562 494L1562 783L1239 783L1239 494ZM1436 642L1436 644L1436 642L1436 641ZM1404 660L1403 662L1402 666L1400 681L1402 695L1403 700L1404 702L1406 700L1407 695L1408 680L1408 672L1407 665L1406 661Z"/>
<path fill="#0000f7" d="M1241 494L1562 494L1562 783L1239 783L1239 494ZM1435 642L1436 644L1436 642L1436 641ZM1404 659L1403 660L1401 666L1400 681L1401 697L1403 703L1404 704L1406 703L1407 698L1408 690L1409 681L1408 672L1407 665L1406 660Z"/>
<path fill="#0008ff" d="M1241 494L1562 494L1562 783L1239 783L1239 494ZM1435 642L1436 645L1436 642L1436 641ZM1404 657L1403 659L1402 660L1401 666L1400 683L1400 693L1401 701L1403 706L1404 707L1406 706L1408 699L1409 692L1409 681L1408 665L1406 658Z"/>
<path fill="#0018ff" d="M1241 494L1562 494L1562 783L1239 783L1239 494ZM1436 641L1435 642L1436 645L1436 642ZM1404 656L1403 657L1402 659L1401 665L1400 675L1399 684L1401 702L1403 709L1404 711L1406 710L1408 702L1409 693L1410 683L1409 672L1408 663L1406 656Z"/>
<path fill="#0028ff" d="M1241 494L1562 494L1562 783L1239 783L1239 494ZM1436 641L1435 642L1436 646L1436 642L1436 640ZM1404 654L1403 655L1402 657L1400 665L1399 675L1399 686L1399 696L1400 705L1403 713L1404 714L1406 713L1407 711L1408 705L1410 695L1410 683L1410 671L1408 662L1406 655L1404 654Z"/>
<path fill="#0038ff" d="M1241 494L1562 494L1562 783L1239 783L1239 494ZM1436 641L1435 644L1436 646L1436 642L1436 640ZM1404 653L1403 653L1401 657L1400 665L1399 675L1398 687L1399 699L1400 708L1402 716L1403 717L1404 719L1406 718L1407 715L1409 709L1410 698L1411 684L1410 671L1409 660L1407 656L1406 653L1404 652Z"/>
<path fill="#0048ff" d="M1241 494L1562 494L1562 783L1239 783L1239 494ZM1435 641L1435 644L1436 647L1437 642L1436 639ZM1403 651L1401 656L1399 665L1398 677L1398 690L1398 704L1400 713L1401 719L1403 722L1404 723L1406 723L1407 720L1409 713L1411 699L1411 684L1411 671L1408 657L1407 654L1406 651L1404 650Z"/>
<path fill="#0058ff" d="M1241 494L1562 494L1562 783L1239 783L1239 494ZM1436 639L1435 642L1436 648L1437 642ZM1403 650L1400 656L1398 665L1397 678L1397 693L1398 707L1399 719L1401 725L1403 728L1404 729L1406 728L1407 726L1410 716L1412 702L1412 686L1411 669L1409 657L1407 651L1406 649L1404 648Z"/>
<path fill="#0068ff" d="M1241 494L1562 494L1562 783L1239 783L1239 494ZM1436 639L1435 644L1436 649L1437 642L1436 638ZM1404 647L1403 647L1401 650L1399 660L1397 674L1396 692L1397 708L1398 722L1401 732L1403 735L1404 736L1406 735L1407 733L1409 730L1410 723L1412 708L1413 690L1412 674L1410 659L1407 649L1406 647Z"/>
<path fill="#0078ff" d="M1241 494L1562 494L1562 783L1239 783L1239 494ZM1436 638L1435 642L1436 650L1437 642ZM1403 645L1401 648L1400 651L1397 663L1396 680L1395 698L1396 716L1398 730L1401 740L1403 742L1404 743L1406 743L1407 741L1409 738L1411 728L1413 711L1414 692L1413 672L1411 657L1409 651L1407 647L1406 645L1404 644Z"/>
<path fill="#0087ff" d="M1241 494L1562 494L1562 783L1239 783L1239 494ZM1435 638L1435 644L1436 652L1437 642L1436 636ZM1403 644L1401 647L1399 651L1396 665L1395 683L1394 702L1395 722L1398 738L1400 746L1401 750L1403 752L1404 753L1406 752L1407 751L1409 748L1412 737L1414 717L1415 695L1414 672L1411 654L1409 648L1407 644L1406 643L1404 642Z"/>
<path fill="#0097ff" d="M1241 494L1562 494L1562 783L1239 783L1239 494ZM1436 636L1435 644L1436 654L1437 642L1436 636L1436 635ZM1404 641L1403 641L1401 643L1400 646L1396 660L1394 680L1393 704L1394 726L1396 746L1400 759L1401 762L1403 764L1404 765L1406 764L1407 763L1409 761L1411 755L1413 747L1416 726L1417 702L1416 678L1413 657L1411 650L1409 645L1406 641Z"/>
<path fill="#00a7ff" d="M1241 494L1562 494L1562 783L1239 783L1239 494ZM1436 635L1435 642L1436 656L1437 642ZM1403 639L1401 642L1398 648L1395 665L1392 689L1392 714L1393 738L1395 759L1398 768L1400 775L1401 777L1403 779L1404 780L1406 780L1407 779L1410 774L1412 768L1414 759L1417 735L1418 707L1417 678L1415 666L1413 654L1410 645L1408 641L1406 639L1404 638Z"/>
<path fill="#00b7ff" d="M1241 494L1562 494L1562 783L1415 783L1418 764L1420 741L1421 717L1420 695L1417 671L1414 653L1411 645L1409 640L1407 638L1406 636L1404 636L1402 638L1400 641L1396 653L1393 671L1390 695L1390 719L1390 743L1392 765L1395 783L1239 783L1239 494ZM1436 633L1434 644L1436 660L1437 642Z"/>
<path fill="#00c7ff" d="M1241 494L1562 494L1562 783L1422 783L1424 759L1424 735L1423 713L1421 690L1418 669L1414 650L1411 642L1409 638L1407 635L1406 634L1404 634L1403 635L1401 636L1400 638L1396 648L1393 663L1390 686L1388 708L1387 734L1388 759L1390 783L1239 783L1239 494ZM1436 632L1435 638L1434 644L1435 657L1436 666L1437 656L1437 644L1437 638Z"/>
<path fill="#00d7ff" d="M1241 494L1562 494L1562 783L1431 783L1431 752L1430 732L1429 720L1423 686L1418 662L1414 645L1411 639L1409 635L1406 632L1404 632L1402 633L1400 636L1396 645L1392 662L1389 681L1386 705L1385 728L1384 753L1384 783L1239 783L1239 494ZM1436 630L1434 639L1434 657L1434 672L1436 680L1437 663L1437 650L1437 638Z"/>
<path fill="#00e7ff" d="M1241 494L1562 494L1562 783L1439 783L1437 720L1438 647L1437 635L1436 628L1434 636L1433 677L1431 686L1430 689L1428 689L1427 686L1417 650L1414 641L1410 634L1408 632L1406 630L1403 630L1400 633L1396 641L1393 651L1390 663L1385 693L1381 731L1377 783L1239 783L1239 494Z"/>
<path fill="#00f7ff" d="M1241 494L1562 494L1562 783L1447 783L1443 754L1441 725L1439 689L1438 641L1437 632L1436 626L1434 633L1433 657L1431 670L1430 674L1428 675L1427 673L1425 670L1415 641L1412 635L1409 630L1406 628L1404 627L1403 628L1399 632L1396 638L1393 647L1390 657L1384 686L1380 714L1370 783L1239 783L1239 494Z"/>
<path fill="#08fff7" d="M1241 494L1562 494L1562 783L1456 783L1449 753L1443 718L1440 686L1438 635L1437 629L1436 623L1434 632L1433 649L1431 660L1430 664L1428 665L1427 664L1425 662L1417 642L1414 635L1407 625L1406 623L1404 623L1403 623L1401 625L1396 635L1392 645L1388 657L1381 689L1367 758L1361 783L1239 783L1239 494Z"/>
<path fill="#18ffe7" d="M1241 494L1562 494L1562 783L1467 783L1455 750L1451 734L1446 715L1442 686L1440 669L1438 630L1437 624L1436 620L1434 626L1431 652L1430 656L1428 657L1427 657L1425 655L1416 636L1412 629L1409 622L1407 620L1406 618L1404 618L1403 618L1402 620L1400 622L1394 636L1390 647L1384 666L1364 741L1356 765L1350 783L1239 783L1239 494Z"/>
<path fill="#28ffd7" d="M1241 494L1562 494L1562 783L1480 783L1469 761L1460 739L1452 719L1448 704L1445 691L1442 674L1440 661L1438 626L1437 621L1436 617L1434 623L1431 645L1430 650L1428 651L1427 650L1425 648L1414 629L1411 621L1409 616L1407 614L1404 613L1401 614L1398 621L1387 650L1370 703L1361 729L1350 756L1338 783L1239 783L1239 494Z"/>
<path fill="#38ffc7" d="M1241 494L1562 494L1562 783L1494 783L1479 759L1467 736L1457 714L1449 695L1445 679L1442 664L1440 651L1438 621L1437 617L1436 613L1434 618L1431 639L1430 644L1428 645L1427 644L1425 643L1416 629L1412 617L1409 611L1407 608L1404 607L1401 608L1400 611L1397 615L1393 629L1373 682L1356 722L1341 753L1324 783L1239 783L1239 494Z"/>
<path fill="#48ffb7" d="M1241 494L1562 494L1562 783L1509 783L1491 758L1475 732L1460 706L1451 687L1446 675L1443 663L1440 642L1438 617L1437 611L1436 608L1434 611L1434 614L1431 635L1430 638L1428 639L1427 639L1424 636L1419 629L1414 614L1410 605L1407 602L1404 601L1403 601L1400 603L1397 609L1394 617L1391 629L1380 655L1368 683L1356 707L1346 726L1334 746L1322 765L1309 783L1239 783L1239 494Z"/>
<path fill="#58ffa7" d="M1241 494L1562 494L1562 783L1527 783L1517 771L1497 747L1478 720L1461 695L1451 676L1446 665L1443 654L1442 644L1439 614L1437 606L1437 605L1436 603L1434 606L1434 608L1430 631L1428 633L1427 633L1425 632L1422 629L1417 611L1412 600L1409 596L1407 595L1404 594L1401 595L1400 596L1396 603L1392 614L1388 629L1382 644L1370 670L1356 694L1343 716L1326 739L1310 761L1291 783L1239 783L1239 494Z"/>
<path fill="#68ff97" d="M1241 494L1562 494L1562 783L1551 783L1527 761L1509 742L1491 721L1473 699L1460 681L1451 666L1448 660L1445 651L1442 635L1439 609L1438 602L1436 599L1436 598L1434 600L1434 602L1430 618L1428 623L1427 624L1425 623L1424 620L1417 602L1413 594L1409 589L1407 588L1404 587L1401 588L1398 590L1394 597L1390 608L1384 629L1382 636L1376 649L1368 663L1359 678L1349 693L1337 709L1325 724L1311 739L1296 755L1281 770L1267 783L1239 783L1239 494Z"/>
<path fill="#78ff87" d="M1241 494L1562 494L1562 761L1538 745L1514 725L1490 703L1469 680L1460 669L1454 661L1449 653L1446 646L1444 633L1440 603L1439 597L1437 593L1436 592L1434 593L1430 604L1428 607L1427 607L1425 606L1424 604L1418 591L1413 585L1409 581L1404 580L1401 580L1398 582L1395 585L1393 590L1387 603L1379 631L1374 642L1368 653L1362 662L1353 674L1344 685L1332 698L1320 710L1307 723L1293 735L1280 745L1266 755L1253 764L1239 772L1239 494Z"/>
<path fill="#87ff78" d="M1241 494L1562 494L1562 715L1551 713L1539 709L1529 705L1517 699L1506 693L1494 685L1482 676L1472 667L1458 653L1454 647L1451 642L1448 633L1441 596L1439 588L1437 587L1436 586L1434 587L1430 592L1428 592L1427 592L1425 591L1418 581L1414 576L1409 573L1404 572L1400 573L1397 575L1393 579L1389 584L1385 591L1381 600L1370 633L1365 642L1361 649L1355 657L1347 665L1338 673L1326 683L1314 692L1302 699L1289 705L1277 710L1265 713L1253 716L1239 717L1239 494Z"/>
<path fill="#97ff68" d="M1241 494L1562 494L1562 628L1518 630L1499 630L1484 628L1473 625L1469 623L1464 620L1457 612L1452 605L1444 587L1440 581L1437 579L1433 580L1430 580L1427 578L1419 570L1415 567L1410 565L1404 564L1400 565L1397 566L1392 569L1389 572L1381 581L1365 603L1358 613L1349 621L1344 624L1338 627L1326 630L1311 631L1293 631L1239 628L1239 494Z"/>
<path fill="#a7ff58" d="M1241 494L1562 494L1562 539L1538 541L1518 543L1502 546L1485 550L1449 560L1445 563L1439 570L1436 573L1434 573L1432 572L1427 563L1424 560L1420 558L1414 557L1406 556L1398 557L1374 563L1367 564L1361 563L1350 561L1319 550L1301 546L1274 541L1239 538L1239 494Z"/>
<path fill="#b7ff48" d="M1311 494L1506 494L1491 503L1476 514L1460 527L1451 535L1448 538L1445 543L1442 551L1438 563L1436 566L1434 566L1433 564L1428 554L1425 551L1422 551L1406 552L1395 551L1386 549L1377 545L1367 538L1334 510L1310 494Z"/>
<path fill="#c7ff38" d="M1338 494L1478 494L1457 515L1448 526L1443 536L1438 557L1436 560L1434 560L1430 549L1427 545L1424 545L1412 547L1403 548L1394 546L1385 541L1379 536L1372 530Z"/>
<path fill="#d7ff28" d="M1353 494L1461 494L1452 506L1446 518L1442 532L1437 551L1436 554L1434 554L1430 543L1428 540L1427 539L1424 539L1412 543L1404 543L1396 542L1388 537L1382 531L1375 524Z"/>
<path fill="#e7ff18" d="M1365 494L1451 494L1445 510L1442 523L1438 543L1436 550L1434 549L1430 536L1428 533L1427 532L1424 532L1413 537L1406 539L1402 539L1398 538L1392 534L1386 528L1378 518L1364 494Z"/>
<path fill="#f7ff08" d="M1373 494L1445 494L1442 512L1438 537L1436 546L1434 545L1430 530L1428 526L1427 524L1425 524L1424 524L1413 532L1407 534L1403 534L1400 533L1394 530L1388 524L1382 515L1373 497L1372 494Z"/>
<path fill="#fff700" d="M1379 494L1442 494L1438 531L1437 537L1436 542L1434 542L1434 540L1430 522L1428 518L1427 516L1425 515L1424 516L1415 525L1410 528L1407 529L1404 529L1400 528L1397 527L1394 524L1388 516L1381 501L1378 494Z"/>
<path fill="#ffe700" d="M1383 494L1441 494L1438 527L1436 539L1434 538L1434 537L1430 513L1428 508L1427 506L1425 505L1424 507L1416 517L1412 522L1407 524L1403 524L1400 523L1397 521L1392 515L1386 503L1382 494Z"/>
<path fill="#ffd700" d="M1386 494L1425 494L1417 509L1413 514L1409 518L1404 520L1400 518L1395 513L1390 504ZM1428 494L1440 494L1438 522L1436 536L1434 535L1433 531L1430 502L1428 495L1427 494Z"/>
<path fill="#ffc700" d="M1389 494L1420 494L1415 504L1412 510L1409 513L1404 515L1401 514L1400 513L1397 510L1392 503ZM1431 494L1439 494L1438 518L1437 528L1436 533L1434 532L1433 525L1431 494Z"/>
<path fill="#ffb700" d="M1392 494L1417 494L1414 501L1410 506L1407 509L1404 510L1401 509L1397 506L1394 499L1392 494ZM1433 494L1438 494L1438 515L1437 525L1436 531L1434 529L1433 521L1432 494Z"/>
<path fill="#ffa700" d="M1395 494L1414 494L1412 498L1409 503L1407 504L1404 506L1401 505L1398 502L1394 494ZM1433 494L1438 494L1437 518L1436 528L1434 526L1433 519Z"/>
<path fill="#ff9700" d="M1397 494L1411 494L1408 500L1404 501L1401 500L1400 499ZM1434 494L1437 494L1437 515L1436 526L1434 523L1433 513L1433 494Z"/>
<path fill="#ff8700" d="M1400 494L1409 494L1407 495L1404 497L1401 496L1399 494ZM1434 494L1437 494L1437 497L1437 513L1436 524L1434 521L1434 513L1434 498L1434 494Z"/>
<path fill="#ff7800" d="M1434 494L1435 494L1436 494L1437 500L1437 512L1436 522L1434 518L1434 513Z"/>
<path fill="#ff6800" d="M1436 495L1437 509L1436 520L1434 515L1434 507L1434 500Z"/>
<path fill="#ff5800" d="M1436 498L1437 509L1436 519L1435 515L1434 509L1435 503Z"/>
<path fill="#ff4800" d="M1436 501L1436 510L1436 517L1435 513L1435 509Z"/>
<path fill="#ff3800" d="M1436 503L1436 510L1436 515L1435 510Z"/>
<path fill="#ff2800" d="M1436 505L1436 514L1435 510Z"/></g>
<path d="M841 744.5 H1166 M1239 562.5 H1562" stroke="#fff" stroke-opacity="0.25" stroke-width="1"/>
<line x1="1001.5" y1="495.9" x2="1001.5" y2="785.2" stroke="#1a1a1a" stroke-opacity="0.75" stroke-width="1.4"/>
<line x1="1430" y1="493.6" x2="1430" y2="783.4" stroke="#1a1a1a" stroke-opacity="0.75" stroke-width="1.4"/>
<line x1="841" y1="640" x2="1165.7" y2="640" stroke="#111" stroke-width="2" stroke-dasharray="6.1 3.6" stroke-dashoffset="-1"/>
<line x1="1239.3" y1="640" x2="1561.9" y2="640" stroke="#111" stroke-width="2" stroke-dasharray="6.1 3.6" stroke-dashoffset="-1"/>
<rect x="841" y="495.9" width="324.7" height="289.3" fill="none" stroke="#222" stroke-width="1.3"/>
<path d="M1239.3 493.6 H1561.9 V783.4 H1239.3" fill="none" stroke="#222" stroke-width="1.3"/>
<path d="M841 640 h6 M1239.3 640 h6" stroke="#222" stroke-width="1.2"/>
<g><rect x="1574.7" y="782.5" width="16.1" height="5.2" fill="#000087"/><rect x="1574.7" y="777.9" width="16.1" height="5.2" fill="#000097"/><rect x="1574.7" y="773.3" width="16.1" height="5.2" fill="#0000a7"/><rect x="1574.7" y="768.8" width="16.1" height="5.2" fill="#0000b7"/><rect x="1574.7" y="764.2" width="16.1" height="5.2" fill="#0000c7"/><rect x="1574.7" y="759.6" width="16.1" height="5.2" fill="#0000d7"/><rect x="1574.7" y="755" width="16.1" height="5.2" fill="#0000e7"/><rect x="1574.7" y="750.4" width="16.1" height="5.2" fill="#0000f7"/><rect x="1574.7" y="745.8" width="16.1" height="5.2" fill="#0008ff"/><rect x="1574.7" y="741.2" width="16.1" height="5.2" fill="#0018ff"/><rect x="1574.7" y="736.7" width="16.1" height="5.2" fill="#0028ff"/><rect x="1574.7" y="732.1" width="16.1" height="5.2" fill="#0038ff"/><rect x="1574.7" y="727.5" width="16.1" height="5.2" fill="#0048ff"/><rect x="1574.7" y="722.9" width="16.1" height="5.2" fill="#0058ff"/><rect x="1574.7" y="718.3" width="16.1" height="5.2" fill="#0068ff"/><rect x="1574.7" y="713.7" width="16.1" height="5.2" fill="#0078ff"/><rect x="1574.7" y="709.1" width="16.1" height="5.2" fill="#0087ff"/><rect x="1574.7" y="704.6" width="16.1" height="5.2" fill="#0097ff"/><rect x="1574.7" y="700" width="16.1" height="5.2" fill="#00a7ff"/><rect x="1574.7" y="695.4" width="16.1" height="5.2" fill="#00b7ff"/><rect x="1574.7" y="690.8" width="16.1" height="5.2" fill="#00c7ff"/><rect x="1574.7" y="686.2" width="16.1" height="5.2" fill="#00d7ff"/><rect x="1574.7" y="681.6" width="16.1" height="5.2" fill="#00e7ff"/><rect x="1574.7" y="677" width="16.1" height="5.2" fill="#00f7ff"/><rect x="1574.7" y="672.5" width="16.1" height="5.2" fill="#08fff7"/><rect x="1574.7" y="667.9" width="16.1" height="5.2" fill="#18ffe7"/><rect x="1574.7" y="663.3" width="16.1" height="5.2" fill="#28ffd7"/><rect x="1574.7" y="658.7" width="16.1" height="5.2" fill="#38ffc7"/><rect x="1574.7" y="654.1" width="16.1" height="5.2" fill="#48ffb7"/><rect x="1574.7" y="649.5" width="16.1" height="5.2" fill="#58ffa7"/><rect x="1574.7" y="644.9" width="16.1" height="5.2" fill="#68ff97"/><rect x="1574.7" y="640.4" width="16.1" height="5.2" fill="#78ff87"/><rect x="1574.7" y="635.8" width="16.1" height="5.2" fill="#87ff78"/><rect x="1574.7" y="631.2" width="16.1" height="5.2" fill="#97ff68"/><rect x="1574.7" y="626.6" width="16.1" height="5.2" fill="#a7ff58"/><rect x="1574.7" y="622" width="16.1" height="5.2" fill="#b7ff48"/><rect x="1574.7" y="617.4" width="16.1" height="5.2" fill="#c7ff38"/><rect x="1574.7" y="612.8" width="16.1" height="5.2" fill="#d7ff28"/><rect x="1574.7" y="608.2" width="16.1" height="5.2" fill="#e7ff18"/><rect x="1574.7" y="603.7" width="16.1" height="5.2" fill="#f7ff08"/><rect x="1574.7" y="599.1" width="16.1" height="5.2" fill="#fff700"/><rect x="1574.7" y="594.5" width="16.1" height="5.2" fill="#ffe700"/><rect x="1574.7" y="589.9" width="16.1" height="5.2" fill="#ffd700"/><rect x="1574.7" y="585.3" width="16.1" height="5.2" fill="#ffc700"/><rect x="1574.7" y="580.7" width="16.1" height="5.2" fill="#ffb700"/><rect x="1574.7" y="576.1" width="16.1" height="5.2" fill="#ffa700"/><rect x="1574.7" y="571.6" width="16.1" height="5.2" fill="#ff9700"/><rect x="1574.7" y="567" width="16.1" height="5.2" fill="#ff8700"/><rect x="1574.7" y="562.4" width="16.1" height="5.2" fill="#ff7800"/><rect x="1574.7" y="557.8" width="16.1" height="5.2" fill="#ff6800"/><rect x="1574.7" y="553.2" width="16.1" height="5.2" fill="#ff5800"/><rect x="1574.7" y="548.6" width="16.1" height="5.2" fill="#ff4800"/><rect x="1574.7" y="544" width="16.1" height="5.2" fill="#ff3800"/><rect x="1574.7" y="539.5" width="16.1" height="5.2" fill="#ff2800"/><rect x="1574.7" y="534.9" width="16.1" height="5.2" fill="#ff1800"/><rect x="1574.7" y="530.3" width="16.1" height="5.2" fill="#ff0800"/><rect x="1574.7" y="525.7" width="16.1" height="5.2" fill="#f70000"/><rect x="1574.7" y="521.1" width="16.1" height="5.2" fill="#e70000"/><rect x="1574.7" y="516.5" width="16.1" height="5.2" fill="#d70000"/><rect x="1574.7" y="511.9" width="16.1" height="5.2" fill="#c70000"/><rect x="1574.7" y="507.4" width="16.1" height="5.2" fill="#b70000"/><rect x="1574.7" y="502.8" width="16.1" height="5.2" fill="#a70000"/><rect x="1574.7" y="498.2" width="16.1" height="5.2" fill="#970000"/><rect x="1574.7" y="493.6" width="16.1" height="5.2" fill="#870000"/></g>
<path d="M1590.8 640 h-3 M1590.8 493.8 h-3 M1590.8 786.8 h-3" stroke="#222" stroke-width="1"/>
<text x="1596" y="511.3" font-family="'Liberation Sans', Arial, sans-serif" font-size="24.5" fill="#000" text-anchor="start" >8</text>
<text x="1596" y="650.6" font-family="'Liberation Sans', Arial, sans-serif" font-size="24.5" fill="#000" text-anchor="start" >0</text>
<text x="1596.5" y="788" font-family="'Liberation Sans', Arial, sans-serif" font-size="24.5" fill="#000" text-anchor="start"  textLength="24" lengthAdjust="spacingAndGlyphs">-8</text>
<rect x="1102.2" y="510.6" width="14.6" height="14.6" fill="#f0606a" stroke="#222" stroke-width="1"/>
<circle cx="1526.3" cy="517.5" r="7.3" fill="#7183f4" stroke="#222" stroke-width="1"/>
<text x="872" y="542" font-family="'Liberation Sans', Arial, sans-serif" font-size="43" fill="#000" text-anchor="start" stroke="#000" stroke-width="0.45">(e)</text>
<text x="1260.3" y="539" font-family="'Liberation Sans', Arial, sans-serif" font-size="43" fill="#000" text-anchor="start" stroke="#000" stroke-width="0.45">(f)</text>
<text x="900.2" y="603.8" font-family="'Liberation Sans', Arial, sans-serif" font-size="29.5" fill="#1330e6" text-anchor="start" textLength="44.5" lengthAdjust="spacingAndGlyphs" stroke="#1330e6" stroke-width="0.35">CPA</text>
<text x="1473.8" y="603.2" font-family="'Liberation Sans', Arial, sans-serif" font-size="29.5" fill="#1330e6" text-anchor="start" textLength="44.5" lengthAdjust="spacingAndGlyphs" stroke="#1330e6" stroke-width="0.35">CPA</text>
<text x="1043" y="601" font-size="33" fill="#000" font-family="'Liberation Serif', 'Times New Roman', serif" text-anchor="start" ><tspan font-style="italic">f</tspan><tspan dy="5.3" dx="-1" font-size="23.8">0</tspan></text>
<text x="1383" y="601" font-size="33" fill="#000" font-family="'Liberation Serif', 'Times New Roman', serif" text-anchor="start" ><tspan font-style="italic">f</tspan><tspan dy="5.3" dx="-1" font-size="23.8">0</tspan></text>
<path fill="none" stroke="#000" stroke-width="1.5" d="M957.4 608.8 L984.2 638.5 M974.2 634.1 L984.2 638.5 L980.8 628.1"/>
<path fill="none" stroke="#000" stroke-width="1.5" d="M1035.3 609.8 L1009 638.5 M1012.4 628.1 L1009 638.5 L1019.1 634.2"/>
<path fill="none" stroke="#000" stroke-width="1.5" d="M1400.3 611 L1427.3 639 M1417.1 634.9 L1427.3 639 L1423.6 628.7"/>
<path fill="none" stroke="#000" stroke-width="1.5" d="M1466.5 611 L1438.6 639 M1442.5 628.7 L1438.6 639 L1448.8 635.1"/>
<text x="820.5" y="515.4" font-family="'Liberation Sans', Arial, sans-serif" font-size="24.5" fill="#000" text-anchor="end" >7</text>
<text x="833" y="650.2" font-family="'Liberation Sans', Arial, sans-serif" font-size="24.5" fill="#000" text-anchor="end" >0</text>
<text x="822.3" y="783.2" font-family="'Liberation Sans', Arial, sans-serif" font-size="24.5" fill="#000" text-anchor="end"  textLength="24" lengthAdjust="spacingAndGlyphs">-7</text>
<text x="1221.5" y="518" font-family="'Liberation Sans', Arial, sans-serif" font-size="24.5" fill="#000" text-anchor="end" >7</text>
<text x="1224.5" y="652.5" font-family="'Liberation Sans', Arial, sans-serif" font-size="24.5" fill="#000" text-anchor="end" >0</text>
<text x="1225.8" y="787.7" font-family="'Liberation Sans', Arial, sans-serif" font-size="24.5" fill="#000" text-anchor="end"  textLength="24" lengthAdjust="spacingAndGlyphs">-7</text>
<text x="847.3" y="815.2" font-family="'Liberation Sans', Arial, sans-serif" font-size="24.5" fill="#000" text-anchor="middle"  textLength="43.3" lengthAdjust="spacingAndGlyphs">500</text>
<text x="950" y="815.2" font-family="'Liberation Sans', Arial, sans-serif" font-size="24.5" fill="#000" text-anchor="middle"  textLength="43.3" lengthAdjust="spacingAndGlyphs">600</text>
<text x="1053.2" y="815.2" font-family="'Liberation Sans', Arial, sans-serif" font-size="24.5" fill="#000" text-anchor="middle"  textLength="43.3" lengthAdjust="spacingAndGlyphs">700</text>
<text x="1155.3" y="815.2" font-family="'Liberation Sans', Arial, sans-serif" font-size="24.5" fill="#000" text-anchor="middle"  textLength="43.3" lengthAdjust="spacingAndGlyphs">800</text>
<text x="1247" y="818.8" font-family="'Liberation Sans', Arial, sans-serif" font-size="24.5" fill="#000" text-anchor="middle"  textLength="43.3" lengthAdjust="spacingAndGlyphs">800</text>
<text x="1349" y="818.8" font-family="'Liberation Sans', Arial, sans-serif" font-size="24.5" fill="#000" text-anchor="middle"  textLength="43.3" lengthAdjust="spacingAndGlyphs">900</text>
<text x="1451.5" y="818.8" font-family="'Liberation Sans', Arial, sans-serif" font-size="24.5" fill="#000" text-anchor="middle"  textLength="57.8" lengthAdjust="spacingAndGlyphs">1000</text>
<text x="1554" y="818.8" font-family="'Liberation Sans', Arial, sans-serif" font-size="24.5" fill="#000" text-anchor="middle"  textLength="55.8" lengthAdjust="spacingAndGlyphs">1100</text>
<text x="963.5" y="859" font-size="42" fill="#000" font-family="'Liberation Serif', 'Times New Roman', serif" text-anchor="start" textLength="98" lengthAdjust="spacingAndGlyphs" ><tspan font-style="italic">Re</tspan><tspan>(</tspan><tspan font-style="italic">f</tspan><tspan>)</tspan></text>
<text x="1362.5" y="859.5" font-size="42" fill="#000" font-family="'Liberation Serif', 'Times New Roman', serif" text-anchor="start" textLength="99.5" lengthAdjust="spacingAndGlyphs" ><tspan font-style="italic">Re</tspan><tspan>(</tspan><tspan font-style="italic">f</tspan><tspan>)</tspan></text>
<g transform="translate(799.5 679) rotate(-90)"><text x="0" y="0" font-size="42" fill="#000" font-family="'Liberation Serif', 'Times New Roman', serif" text-anchor="start" textLength="105" lengthAdjust="spacingAndGlyphs" ><tspan font-style="italic">Im</tspan><tspan>(</tspan><tspan font-style="italic">f</tspan><tspan>)</tspan></text></g>
</svg>
</body></html>
